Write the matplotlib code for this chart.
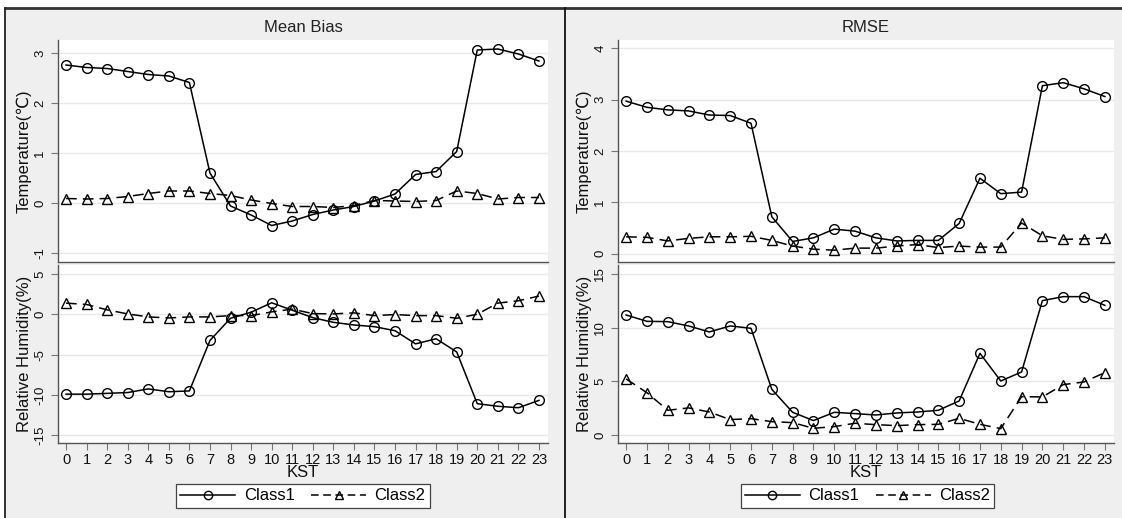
import matplotlib
matplotlib.use("Agg")
import matplotlib.pyplot as plt
from matplotlib.lines import Line2D
from matplotlib.patches import Rectangle

plt.rcParams['font.family'] = ['Liberation Sans', 'DejaVu Sans']
plt.rcParams['axes.unicode_minus'] = False

hours = list(range(24))

# Mean bias, temperature (degC)
mb_temp_c1 = [2.76, 2.71, 2.69, 2.63, 2.57, 2.54, 2.41, 0.60, -0.06, -0.24, -0.45, -0.36,
              -0.23, -0.14, -0.07, 0.04, 0.18, 0.57, 0.63, 1.03, 3.06, 3.08, 2.98, 2.84]
mb_temp_c2 = [0.09, 0.08, 0.09, 0.13, 0.19, 0.24, 0.24, 0.19, 0.15, 0.06, -0.01, -0.07,
              -0.07, -0.09, -0.05, 0.05, 0.04, 0.03, 0.05, 0.24, 0.19, 0.08, 0.11, 0.11]
# Mean bias, relative humidity (%)
mb_rh_c1 = [-9.9, -9.9, -9.8, -9.7, -9.25, -9.6, -9.5, -3.25, -0.5, 0.25, 1.42, 0.5,
            -0.42, -1.0, -1.33, -1.54, -2.04, -3.67, -3.04, -4.67, -11.08, -11.4, -11.58, -10.67]
mb_rh_c2 = [1.38, 1.21, 0.54, 0.04, -0.33, -0.46, -0.33, -0.33, -0.17, -0.17, 0.29, 0.63,
            0.08, 0.04, 0.17, -0.17, -0.04, -0.17, -0.17, -0.5, 0.0, 1.38, 1.67, 2.25]
# RMSE, temperature (degC)
rmse_temp_c1 = [2.97, 2.85, 2.80, 2.78, 2.70, 2.69, 2.54, 0.72, 0.24, 0.31, 0.48, 0.44,
                0.31, 0.25, 0.26, 0.26, 0.59, 1.47, 1.17, 1.20, 3.27, 3.33, 3.21, 3.06]
rmse_temp_c2 = [0.33, 0.32, 0.25, 0.30, 0.33, 0.33, 0.34, 0.26, 0.15, 0.09, 0.07, 0.11,
                0.11, 0.15, 0.18, 0.12, 0.15, 0.13, 0.13, 0.60, 0.35, 0.28, 0.29, 0.31]
# RMSE, relative humidity (%)
rmse_rh_c1 = [11.18, 10.59, 10.56, 10.16, 9.6, 10.16, 9.94, 4.25, 2.11, 1.34, 2.11, 1.99,
              1.86, 2.05, 2.14, 2.30, 3.17, 7.61, 5.03, 5.87, 12.52, 12.89, 12.89, 12.08]
rmse_rh_c2 = [5.22, 3.94, 2.30, 2.52, 2.14, 1.43, 1.52, 1.24, 1.15, 0.62, 0.78, 1.09,
              0.96, 0.87, 0.96, 0.99, 1.55, 0.99, 0.59, 3.57, 3.54, 4.69, 4.94, 5.81]

titles = ["Mean Bias", "RMSE"]
series_names = ["Class1", "Class2"]
temp_label = "Temperature(\u2103)"
rh_label = "Relative Humidity(%)"
x_label = "KST"

W, H = 1122, 518
fig = plt.figure(figsize=(W / 100, H / 100), dpi=100)
fig.patch.set_facecolor("white")

PANEL_BG = "#efefef"
GRID = "#e8e8e8"
SPINE = "#555555"
FS = 9.5
LFS = 12


def fx(px):
    return px / W


def fy(py):
    return 1 - py / H


# panel backgrounds and frame lines
for x0, x1 in [(5, 565), (565, 1122)]:
    fig.add_artist(Rectangle((fx(x0), 0), fx(x1 - x0), fy(8), transform=fig.transFigure,
                             facecolor=PANEL_BG, edgecolor="none", zorder=0))
fig.add_artist(Line2D([fx(5), 1], [fy(8), fy(8)], transform=fig.transFigure, color="#333333", lw=2))
fig.add_artist(Line2D([fx(5), fx(5)], [0, fy(8)], transform=fig.transFigure, color="#222222", lw=1.3))
fig.add_artist(Line2D([fx(565), fx(565)], [0, fy(8)], transform=fig.transFigure, color="#111111", lw=1.3))


def make_axes(x0, x1, y0, y1):
    ax = fig.add_axes([fx(x0), fy(y1), fx(x1 - x0), (y1 - y0) / H])
    ax.set_facecolor("white")
    for s in ["top", "right"]:
        ax.spines[s].set_visible(False)
    for s in ["left", "bottom"]:
        ax.spines[s].set_color(SPINE)
        ax.spines[s].set_linewidth(1.0)
    ax.tick_params(axis="both", direction="out", length=5, width=0.8, color="#777777",
                   labelsize=FS, labelcolor="#111111", pad=2)
    ax.tick_params(axis="x", labelsize=FS + 1)
    ax.tick_params(axis="y", pad=3.5)
    ax.grid(axis="y", color=GRID, lw=1.0)
    ax.set_axisbelow(True)
    ax.set_xlim(-0.39, 23.44)
    ax.set_xticks(hours)
    return ax


def draw(ax, c1, c2):
    ax.plot(hours, c1, color="black", lw=1.1, marker="o", ms=7, mfc="none", mec="black",
            mew=1.0, zorder=3)
    ax.plot(hours, c2, color="black", lw=1.1, ls=(0, (7, 4)), marker="^", ms=6.5, mfc="none",
            mec="black", mew=1.0, zorder=3)


def style_y(ax, ticks, lim, label, lx):
    ax.set_ylim(*lim)
    ax.set_yticks(ticks)
    for t in ax.get_yticklabels():
        t.set_rotation(90)
        t.set_va("center")
    ax.set_ylabel(label, fontsize=LFS, color="#111111")
    ax.yaxis.set_label_coords(lx, 0.5)


panels = [
    dict(x0=58, x1=548, title=titles[0], t1=mb_temp_c1, t2=mb_temp_c2, r1=mb_rh_c1, r2=mb_rh_c2,
         tticks=[-1, 0, 1, 2, 3], tlim=(-1.18, 3.26), rticks=[-15, -10, -5, 0, 5], rlim=(-15.95, 6.1),
         lx=-0.053, leg=(178, 378)),
    dict(x0=618, x1=1114, title=titles[1], t1=rmse_temp_c1, t2=rmse_temp_c2, r1=rmse_rh_c1, r2=rmse_rh_c2,
         tticks=[0, 1, 2, 3, 4], tlim=(-0.16, 4.16), rticks=[0, 5, 10, 15], rlim=(-0.75, 15.84),
         lx=-0.053, leg=(740, 945)),
]

for p in panels:
    axt = make_axes(p["x0"], p["x1"], 40, 262)
    draw(axt, p["t1"], p["t2"])
    style_y(axt, p["tticks"], p["tlim"], temp_label, p["lx"])
    axt.tick_params(axis="x", bottom=False, labelbottom=False)

    axr = make_axes(p["x0"], p["x1"], 265, 443)
    draw(axr, p["r1"], p["r2"])
    style_y(axr, p["rticks"], p["rlim"], rh_label, p["lx"])
    axr.set_xlabel(x_label, fontsize=LFS, color="#111111", labelpad=-1)

    cx = (p["x0"] + p["x1"]) / 2
    fig.text(fx(cx), fy(28), p["title"], ha="center", va="center", fontsize=LFS, color="#222222")

    handles = [
        Line2D([], [], color="black", lw=1.1, marker="o", ms=6, mfc="none", mec="black"),
        Line2D([], [], color="black", lw=1.1, ls=(0, (5, 3)), marker="^", ms=6, mfc="none", mec="black"),
    ]
    lx0, lx1 = p["leg"]
    leg = fig.legend(handles, series_names, loc="center", ncol=2,
                     bbox_to_anchor=(fx((lx0 + lx1) / 2 + 25), fy(496)), fontsize=LFS,
                     frameon=True, fancybox=False, edgecolor="#444444", facecolor="white",
                     framealpha=1, handlelength=3.3, columnspacing=1.0, handletextpad=0.5,
                     borderpad=0.25, borderaxespad=0, numpoints=1)
    leg.get_frame().set_linewidth(0.9)

fig.savefig("out.png", dpi=100, facecolor=fig.get_facecolor())
